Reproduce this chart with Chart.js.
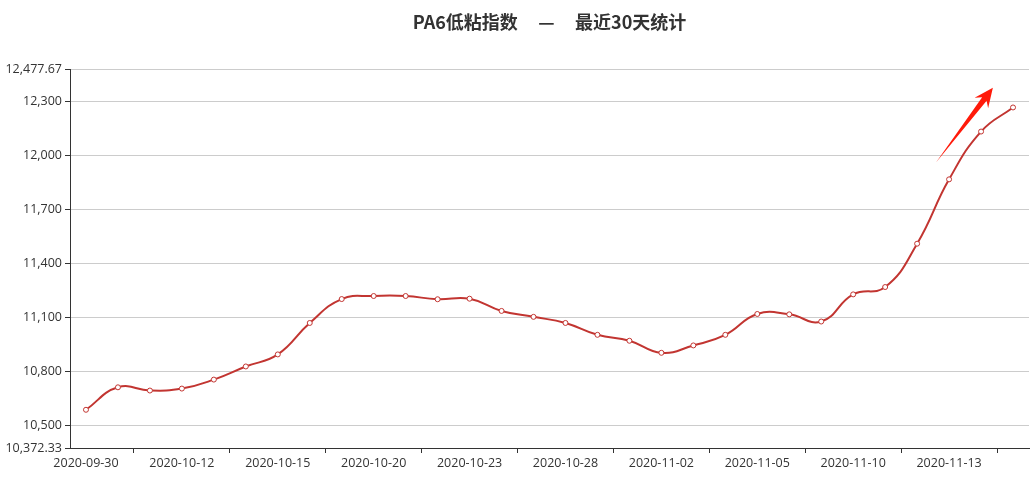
<!DOCTYPE html>
<html>
<head>
<meta charset="utf-8">
<script src="https://cdn.jsdelivr.net/npm/chart.js@4.4.1/dist/chart.umd.min.js"></script>
<style>
    html, body { margin: 0; padding: 0; background: #fff; }
    #wrap { width: 1034px; height: 481px; position: relative; }
</style>
</head>
<body>
<div id="wrap"><canvas id="pa6Chart"></canvas></div>
<script>
// Trading days (last 30)
const dates = [
    '2020-09-30', '2020-10-09', '2020-10-10', '2020-10-12', '2020-10-13', '2020-10-14',
    '2020-10-15', '2020-10-16', '2020-10-19', '2020-10-20', '2020-10-21', '2020-10-22',
    '2020-10-23', '2020-10-26', '2020-10-27', '2020-10-28', '2020-10-29', '2020-10-30',
    '2020-11-02', '2020-11-03', '2020-11-04', '2020-11-05', '2020-11-06', '2020-11-09',
    '2020-11-10', '2020-11-11', '2020-11-12', '2020-11-13', '2020-11-16', '2020-11-17'
];

// PA6 low-viscosity index values
const indexValues = [
    10585, 10710, 10692, 10703, 10753, 10826,
    10893, 11068, 11201, 11218, 11218, 11200,
    11203, 11135, 11102, 11068, 11002, 10969,
    10902, 10943, 11002, 11118, 11116, 11076,
    11227, 11268, 11509, 11867, 12133, 12267
];

const yMin = 10372.33;
const yMax = 12477.67;
const yTicks = [10372.33, 10500, 10800, 11100, 11400, 11700, 12000, 12300, 12477.67];

// trend arrow, in data coordinates [categoryIndex, value]
const arrowFrom = [26.59, 11961];
const arrowTo = [28.37, 12376];

const fmt = v => v.toLocaleString('en-US', { maximumFractionDigits: 2 });

// draws the red trend arrow through the scales
const arrowPlugin = {
    id: 'trendArrow',
    afterDatasetsDraw(chart) {
        const { ctx, scales: { x, y } } = chart;
        const x0 = x.getPixelForValue(arrowFrom[0]), y0 = y.getPixelForValue(arrowFrom[1]);
        const x1 = x.getPixelForValue(arrowTo[0]), y1 = y.getPixelForValue(arrowTo[1]);
        const dx = x1 - x0, dy = y1 - y0;
        const len = Math.sqrt(dx * dx + dy * dy);
        const ux = dx / len, uy = dy / len;
        const nx = -uy, ny = ux;
        const headLen = 19, headW = 8.5, shaftW = 2.8;
        const bx = x1 - ux * headLen, by = y1 - uy * headLen;
        const nb = x1 - ux * (headLen - 5), nby = y1 - uy * (headLen - 5);
        ctx.save();
        ctx.fillStyle = '#ff1a0a';
        ctx.beginPath();
        ctx.moveTo(x0, y0);
        ctx.lineTo(nb + nx * shaftW, nby + ny * shaftW);
        ctx.lineTo(bx + nx * headW, by + ny * headW);
        ctx.lineTo(x1, y1);
        ctx.lineTo(bx - nx * headW, by - ny * headW);
        ctx.lineTo(nb - nx * shaftW, nby - ny * shaftW);
        ctx.closePath();
        ctx.fill();
        ctx.restore();
    }
};

Chart.defaults.font.family = '"Open Sans", "Noto Sans CJK SC", sans-serif';
Chart.defaults.font.size = 12.5;
Chart.defaults.color = '#333';

const ctx = document.getElementById('pa6Chart').getContext('2d');
new Chart(ctx, {
    type: 'line',
    data: {
        labels: dates,
        datasets: [{
            label: 'PA6低粘指数',
            data: indexValues,
            borderColor: '#c23531',
            borderWidth: 2,
            tension: 0.45,
            pointRadius: 2.5,
            pointBorderWidth: 1,
            pointBackgroundColor: '#fff',
            pointBorderColor: '#c23531',
            fill: false
        }]
    },
    options: {
        responsive: true,
        maintainAspectRatio: false,
        animation: false,
        layout: { padding: { left: 0, right: 4, top: 0, bottom: 0 } },
        plugins: {
            legend: { display: false },
            tooltip: { enabled: false },
            title: {
                display: true,
                fullSize: false,
                text: 'PA6低粘指数     —     最近30天统计',
                color: '#333',
                font: { family: '"Noto Sans CJK SC", sans-serif', size: 18, weight: 'bold' },
                padding: { top: 11, bottom: 37 }
            }
        },
        scales: {
            x: {
                offset: true,
                border: { color: '#333', width: 1 },
                grid: {
                    offset: true,
                    drawOnChartArea: false,
                    tickLength: 5,
                    color: c => (c.index % 3 === 2 ? '#333' : 'rgba(0,0,0,0)')
                },
                ticks: {
                    autoSkip: false,
                    maxRotation: 0,
                    padding: 3,
                    color: '#333',
                    callback: function (val, i) { return i % 3 === 0 ? this.getLabelForValue(val) : ''; }
                },
                afterFit: s => { s.height = 33; }
            },
            y: {
                min: yMin,
                max: yMax,
                border: { color: '#333', width: 1 },
                grid: { color: '#ccc', tickColor: '#333', tickLength: 5 },
                ticks: { padding: 3, color: '#333', callback: v => fmt(v) },
                afterBuildTicks: s => { s.ticks = yTicks.map(v => ({ value: v })); },
                afterFit: s => { s.width = 70; }
            }
        }
    },
    plugins: [arrowPlugin]
});
</script>
</body>
</html>
